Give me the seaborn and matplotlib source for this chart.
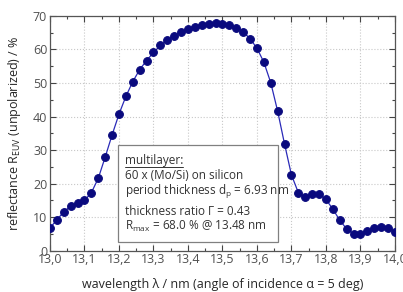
import matplotlib
matplotlib.use('Agg')
import matplotlib.pyplot as plt
from matplotlib.ticker import MultipleLocator, FuncFormatter
from matplotlib.patches import Rectangle
from matplotlib.lines import Line2D
import seaborn as sns
import pandas as pd

# wavelength in nm, 0.02 nm steps
wavelength = [13.00, 13.02, 13.04, 13.06, 13.08, 13.10, 13.12, 13.14, 13.16, 13.18,
              13.20, 13.22, 13.24, 13.26, 13.28, 13.30, 13.32, 13.34, 13.36, 13.38,
              13.40, 13.42, 13.44, 13.46, 13.48, 13.50, 13.52, 13.54, 13.56, 13.58,
              13.60, 13.62, 13.64, 13.66, 13.68, 13.70, 13.72, 13.74, 13.76, 13.78,
              13.80, 13.82, 13.84, 13.86, 13.88, 13.90, 13.92, 13.94, 13.96, 13.98,
              14.00]
# reflectance in %
reflectance = [6.8, 9.2, 11.6, 13.3, 14.2, 15.0, 17.3, 21.6, 27.9, 34.5,
               40.7, 46.0, 50.4, 54.0, 56.7, 59.1, 61.2, 62.8, 64.1, 65.2,
               66.0, 66.8, 67.3, 67.7, 68.0, 67.7, 67.2, 66.5, 65.3, 63.2,
               60.4, 56.2, 50.1, 41.6, 31.8, 22.6, 17.3, 15.9, 16.8, 16.9,
               15.3, 12.4, 9.1, 6.5, 5.1, 5.1, 6.0, 6.8, 7.2, 6.9,
               5.7]

info_lines = [
    'multilayer:',
    '60 x (Mo/Si) on silicon',
    r'period thickness d$_\mathrm{p}$ = 6.93 nm',
    'thickness ratio \u0393 = 0.43',
    r'R$_\mathrm{max}$ = 68.0 % @ 13.48 nm',
]
info_y = [0.368, 0.305, 0.238, 0.153, 0.090]

sns.set_style('ticks')
plt.rcParams['font.family'] = ['Open Sans', 'DejaVu Sans']
plt.rcParams['mathtext.fontset'] = 'custom'
plt.rcParams['mathtext.rm'] = 'Open Sans'
plt.rcParams['mathtext.it'] = 'Open Sans:italic'

df = pd.DataFrame({'wavelength': wavelength, 'reflectance': reflectance})

fig = plt.figure(figsize=(4.03, 2.92), dpi=100)
ax = fig.add_axes([0.124, 0.1414, 0.856, 0.804])

ax.grid(True, which='major', color='#c8c8c8', linestyle=':', linewidth=0.8)
ax.set_axisbelow(True)

sns.lineplot(data=df, x='wavelength', y='reflectance', ax=ax,
             color='#2a2ab8', linewidth=0.9, marker='o', markersize=5.6,
             markerfacecolor='#0a0a7e', markeredgecolor='#0a0a7e', zorder=3)

ax.set_xlim(13.0, 14.0)
ax.set_ylim(0, 70)
ax.xaxis.set_major_locator(MultipleLocator(0.1))
ax.xaxis.set_minor_locator(MultipleLocator(0.05))
ax.yaxis.set_major_locator(MultipleLocator(10))
ax.yaxis.set_minor_locator(MultipleLocator(5))
ax.xaxis.set_major_formatter(FuncFormatter(lambda v, p: f'{v:.1f}'.replace('.', ',')))

ax.tick_params(which='both', direction='in', top=True, right=True,
               color='#444444', labelsize=9, labelcolor='#505050', pad=2)
ax.tick_params(which='major', length=4, width=0.8)
ax.tick_params(which='minor', length=2, width=0.8)
for s in ax.spines.values():
    s.set_color('#555555')
    s.set_linewidth(0.9)

ax.set_xlabel('wavelength \u03bb / nm (angle of incidence \u03b1 = 5 deg)',
              fontsize=9, labelpad=8)
ax.set_ylabel(r'reflectance R$_\mathrm{EUV}$ (unpolarized) / %', fontsize=9, labelpad=7)

ax.add_patch(Rectangle((0.197, 0.037), 0.464, 0.413, transform=ax.transAxes,
                       facecolor='white', edgecolor='#808080', linewidth=0.9, zorder=4))
texts = []
for txt, yy in zip(info_lines, info_y):
    texts.append(ax.text(0.217, yy, txt, transform=ax.transAxes, fontsize=8.5,
                         color='#333333', va='baseline', ha='left', zorder=5))

# underline the heading
fig.canvas.draw()
bb = texts[0].get_window_extent().transformed(ax.transAxes.inverted())
ax.add_line(Line2D([bb.x0, bb.x1], [info_y[0] - 0.01] * 2, transform=ax.transAxes,
                   color='#333333', linewidth=0.7, zorder=5))

fig.savefig('out.png', dpi=100)
